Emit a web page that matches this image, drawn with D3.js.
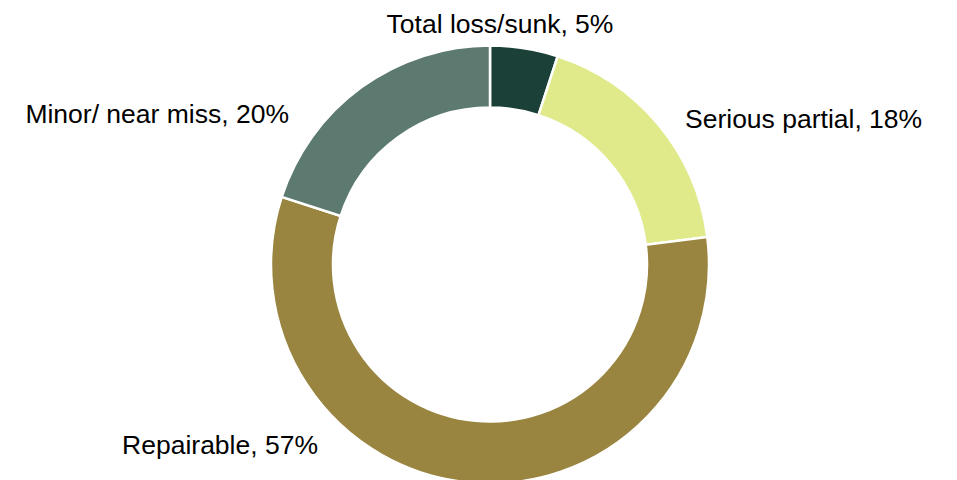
<!DOCTYPE html>
<html lang="en">
<head>
  <meta charset="UTF-8">
  <title>Damage severity</title>
  <script src="https://d3js.org/d3.v7.min.js"></script>
  <style>
    body { margin: 0; padding: 0; background: #fff; }
    svg { display: block; }
    .label { font-family: "Liberation Sans", Arial, sans-serif; font-size: 26.5px; fill: #000; }
  </style>
</head>
<body>
  <svg width="957" height="480"></svg>
  <script>
    // data
    const categories = ["Total loss/sunk", "Serious partial", "Repairable", "Minor/ near miss"];
    const values = [5, 18, 57, 20];
    const colors = ["#1a4038", "#e0ea8a", "#998540", "#5c7a70"];

    // label placement (layout only)
    const labelPos = [
      { x: 500, y: 33, anchor: "middle" },
      { x: 685, y: 128, anchor: "start" },
      { x: 318, y: 454, anchor: "end" },
      { x: 289, y: 123, anchor: "end" }
    ];

    const svg = d3.select("svg");
    const cx = 490, cy = 264.5;
    const outerR = 219, innerR = 157;

    const pie = d3.pie().sort(null).value(d => d.value);
    const arc = d3.arc().innerRadius(innerR).outerRadius(outerR);
    const rows = categories.map((c, i) => ({ name: c, value: values[i], color: colors[i] }));

    const g = svg.append("g").attr("transform", `translate(${cx},${cy})`);
    g.selectAll("path")
      .data(pie(rows))
      .enter()
      .append("path")
      .attr("d", arc)
      .attr("fill", d => d.data.color)
      .attr("stroke", "#fff")
      .attr("stroke-width", 2.5);

    svg.selectAll(".label")
      .data(rows)
      .enter()
      .append("text")
      .attr("class", "label")
      .attr("x", (d, i) => labelPos[i].x)
      .attr("y", (d, i) => labelPos[i].y)
      .attr("text-anchor", (d, i) => labelPos[i].anchor)
      .text(d => `${d.name}, ${d.value}%`);
  </script>
</body>
</html>
